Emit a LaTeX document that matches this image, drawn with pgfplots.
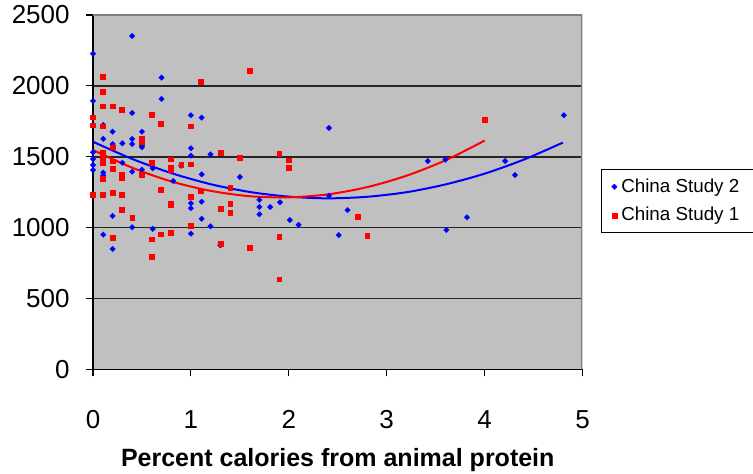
\documentclass[border=0pt]{standalone}
\usepackage{pgfplots}
\pgfplotsset{compat=1.18}
\usepackage{fontspec}
\setmainfont{Liberation Sans}
\definecolor{plotgray}{HTML}{C0C0C0}
\definecolor{bordergray}{HTML}{808080}
\begin{document}
\begin{tikzpicture}
\path[use as bounding box] (-46.5pt,-52.25pt) rectangle (330pt,184.75pt);
\begin{axis}[
  at={(0,0)}, anchor=south west,
  scale only axis, width=244.75pt, height=177.25pt,
  xmin=0, xmax=5, ymin=0, ymax=2500,
  xtick={0,1,2,3,4,5}, ytick={0,500,1000,1500,2000,2500},
  scaled ticks=false,
  /pgf/number format/1000 sep={},
  /pgf/number format/assume math mode=true,
  axis background/.style={fill=plotgray},
  axis x line*=bottom, axis y line*=left,
  axis line style={black, line width=0.6pt, -},
  ymajorgrids, major grid style={black!85, line width=0.8pt},
  tick align=outside, major tick length=3.5pt,
  tick style={black, line width=0.6pt},
  xticklabel style={font=\fontsize{13}{15}\selectfont, anchor=base, yshift=-25.9pt},
  yticklabel style={font=\fontsize{13}{15}\selectfont, anchor=east, inner sep=0pt, xshift=-8pt},
  xlabel={Percent calories from animal protein},
  xlabel style={font=\bfseries\fontsize{12.5}{15}\selectfont, at={(axis description cs:0.5,0)}, anchor=base, yshift=-48.5pt},
  legend style={at={(1.038,0.475)}, anchor=west, draw=black, line width=0.5pt,
    font=\fontsize{9.4}{11}\selectfont, inner xsep=5pt, inner ysep=2.5pt, row sep=2pt},
  legend cell align=left,
  legend image code/.code={\draw[mark repeat=2, mark phase=2, #1] plot coordinates {(0pt,0pt) (5pt,0pt) (10pt,0pt)};},
]
% China Study 2
\addplot[only marks, mark=square*, mark size=1.0pt, mark options={rotate=45, fill=blue, draw=blue, line width=0.1pt}, color=blue] coordinates {
(0,2227) (0.40,2352) (0.70,2058) (0,1894) (0.70,1908) (0.40,1809) (1.0,1793) (1.11,1776)
(0.105,1724) (0.20,1677) (0.50,1677) (0.105,1626) (0.40,1626) (0.30,1595) (0.20,1590) (0.40,1590)
(0.50,1600) (0.50,1578) (0.50,1567) (1.0,1560) (1.0,1508) (1.20,1517)
(0,1532) (0,1484) (0,1442) (0,1407) (0.30,1458) (0.105,1388) (0.105,1368) (0.40,1395)
(0.50,1410) (0.61,1419) (0.82,1329) (0.90,1437) (1.11,1376) (1.50,1357)
(1.0,1172) (1.0,1137) (1.11,1183) (1.70,1196) (1.70,1146) (1.70,1095)
(0.20,1083) (1.11,1063) (0.40,1003) (0.61,992) (1.20,1010) (0.105,951) (1.0,958) (0.20,850) (1.30,876)
(2.41,1703) (1.81,1146) (1.91,1179) (2.41,1226) (2.60,1124) (2.01,1054) (2.10,1020) (2.51,948)
(3.61,984) (3.42,1470) (3.60,1480) (4.21,1470) (4.31,1371) (3.82,1073) (4.81,1793)
};
\addlegendentry{China Study 2}
% China Study 1
\addplot[only marks, mark=square*, mark size=1.2pt, mark options={fill=red, draw=red, line width=0.1pt}, color=red] coordinates {
(1.60,2107) (0.095,2065) (1.10,2030) (0.095,1957) (0.095,1858) (0.20,1858) (0.29,1835) (0.60,1797)
(0,1780) (0.69,1736) (0,1724) (0.095,1717) (1.0,1717) (0.50,1630) (0.50,1603) (0.20,1568)
(1.30,1532) (1.50,1494) (0.095,1530) (0.095,1506) (0.095,1484) (0.095,1460) (0.20,1470)
(0.79,1484) (0.60,1461) (1.0,1449) (0.79,1426) (0.79,1407) (0.90,1444) (0.20,1416)
(0.29,1378) (0.29,1356) (0.50,1372) (0.095,1346)
(0,1231) (0.095,1236) (0.20,1245) (0.29,1236) (0.69,1266) (1.0,1219) (1.10,1258) (1.40,1285)
(1.40,1172) (1.30,1132) (0.79,1174) (0.79,1162) (0.29,1125) (1.40,1108) (0.40,1071)
(1.0,1017) (0.79,966) (0.69,955) (0.60,920) (0.20,929) (1.30,887) (1.60,857) (0.60,796)
(1.90,1522) (2.0,1477) (2.0,1426) (2.70,1078) (1.90,937) (2.80,944) (1.90,638) (4.0,1760)
};
\addlegendentry{China Study 1}
% trend lines
\addplot[blue, line width=1pt, smooth, forget plot] coordinates {
(0,1606) (0.4,1485) (0.8,1385) (1.2,1307) (1.6,1252) (2.0,1219) (2.4,1207) (2.8,1218)
(3.2,1250) (3.6,1305) (4.0,1381) (4.4,1480) (4.8,1600)
};
\addplot[red, line width=1pt, smooth, forget plot] coordinates {
(0,1548) (0.4,1423) (0.8,1326) (1.2,1260) (1.6,1222) (2.0,1214) (2.4,1235) (2.8,1286)
(3.2,1366) (3.6,1475) (4.0,1614)
};
\draw[bordergray, line width=1pt] (rel axis cs:0,1) -- (rel axis cs:1,1) -- (rel axis cs:1,0);
\end{axis}
\end{tikzpicture}
\end{document}
